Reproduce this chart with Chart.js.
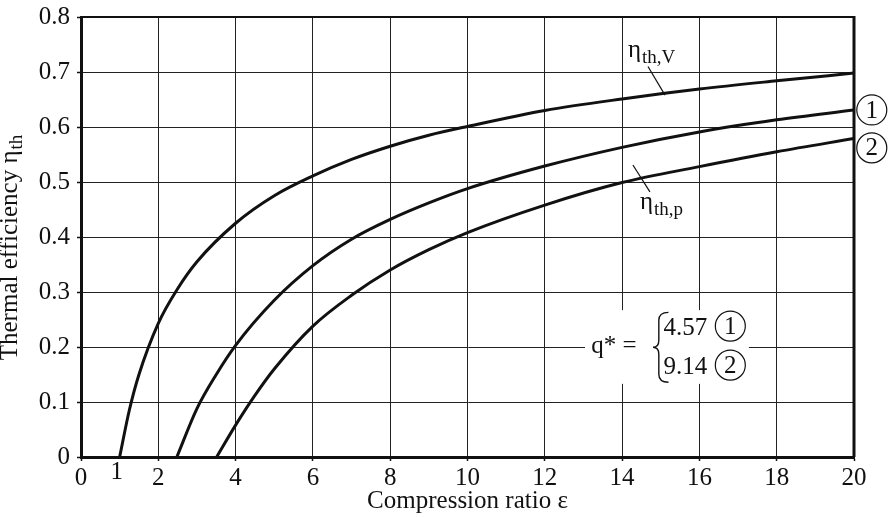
<!DOCTYPE html>
<html>
<head>
<meta charset="utf-8">
<script src="https://cdn.jsdelivr.net/npm/chart.js@4.4.1/dist/chart.umd.min.js"></script>
<style>
  html, body { margin: 0; padding: 0; background: #fff; }
  #wrap { width: 888px; height: 518px; }
</style>
</head>
<body>
<div id="wrap"><canvas id="c" width="888" height="518"></canvas></div>
<script>
// Values.
const epsV = [1, 1.25, 1.5, 2, 2.5, 3, 4, 5, 6, 7, 8, 9, 10, 12, 14, 16, 18, 20];
const etaV = [0, 0.085, 0.150, 0.243, 0.306, 0.355, 0.425, 0.475, 0.511, 0.541, 0.565, 0.585, 0.601, 0.630, 0.651, 0.669, 0.684, 0.698];

const eps1 = [2.48, 3, 3.5, 4, 5, 6, 7, 8, 9, 10, 12, 14, 16, 18, 20];
const eta1 = [0, 0.088, 0.150, 0.203, 0.285, 0.348, 0.396, 0.432, 0.462, 0.488, 0.529, 0.563, 0.591, 0.613, 0.631];

const eps2 = [3.51, 4, 4.5, 5, 6, 7, 8, 9, 10, 12, 14, 16, 18, 20];
const eta2 = [0, 0.058, 0.112, 0.160, 0.238, 0.294, 0.340, 0.377, 0.408, 0.458, 0.499, 0.528, 0.555, 0.579];

const xTicks = [0, 2, 4, 6, 8, 10, 12, 14, 16, 18, 20];
const yTicks = [0, 0.1, 0.2, 0.3, 0.4, 0.5, 0.6, 0.7, 0.8];
const qValues = ['4.57', '9.14'];

const SERIF = '"Liberation Serif", "DejaVu Serif", serif';

function pts(xs, ys) {
    return xs.map((x, i) => ({ x: x, y: ys[i] }));
}

function curve(label, xs, ys) {
    return {
        label: label,
        data: pts(xs, ys),
        borderColor: '#111',
        borderWidth: 3,
        pointRadius: 0,
        fill: false,
        cubicInterpolationMode: 'monotone'
    };
}

// eta with a subscript, drawn at (x, baseline y)
function etaSub(ctx, x, y, sub) {
    ctx.font = '25px ' + SERIF;
    ctx.textAlign = 'left';
    ctx.textBaseline = 'alphabetic';
    ctx.fillText('\u03b7', x, y);
    const w = ctx.measureText('\u03b7').width;
    ctx.font = '19px ' + SERIF;
    ctx.fillText(sub, x + w + 1, y + 6);
}

function circled(ctx, x, y, txt) {
    ctx.beginPath();
    ctx.arc(x, y, 15, 0, Math.PI * 2);
    ctx.lineWidth = 1.2;
    ctx.stroke();
    ctx.font = '25px ' + SERIF;
    ctx.textAlign = 'center';
    ctx.textBaseline = 'middle';
    ctx.fillText(txt, x, y + 1);
}

const extras = {
    id: 'extras',
    afterDraw(chart) {
        const ctx = chart.ctx;
        const a = chart.chartArea;
        const X = v => chart.scales.x.getPixelForValue(v);
        const Y = v => chart.scales.y.getPixelForValue(v);
        ctx.save();
        ctx.fillStyle = '#111';
        ctx.strokeStyle = '#111';

        // top and right frame
        ctx.lineWidth = 2;
        ctx.beginPath();
        ctx.moveTo(a.left, a.top);
        ctx.lineTo(a.right, a.top);
        ctx.stroke();
        ctx.lineWidth = 3;
        ctx.beginPath();
        ctx.moveTo(a.right, a.top - 1);
        ctx.lineTo(a.right, a.bottom);
        ctx.stroke();

        // extra "1" under the axis
        ctx.font = '25px ' + SERIF;
        ctx.textAlign = 'center';
        ctx.textBaseline = 'alphabetic';
        ctx.fillText('1', X(1) - 3, a.bottom + 22);

        // y axis title with subscript
        ctx.save();
        ctx.translate(17, 248);
        ctx.rotate(-Math.PI / 2);
        ctx.font = '25px ' + SERIF;
        const main = 'Thermal efficiency \u03b7';
        const wMain = ctx.measureText(main).width;
        ctx.font = '19px ' + SERIF;
        const wSub = ctx.measureText('th').width;
        const x0 = -(wMain + wSub) / 2;
        ctx.font = '25px ' + SERIF;
        ctx.textAlign = 'left';
        ctx.fillText(main, x0, 0);
        ctx.font = '19px ' + SERIF;
        ctx.fillText('th', x0 + wMain + 1, 5);
        ctx.restore();

        // curve labels with leader lines
        etaSub(ctx, X(14.15), Y(0.727), 'th,V');
        ctx.lineWidth = 1.2;
        ctx.beginPath();
        ctx.moveTo(X(14.67), Y(0.71));
        ctx.lineTo(X(15.11), Y(0.658));
        ctx.stroke();

        etaSub(ctx, X(14.46), Y(0.451), 'th,p');
        ctx.beginPath();
        ctx.moveTo(X(14.28), Y(0.531));
        ctx.lineTo(X(14.72), Y(0.482));
        ctx.stroke();

        // circled series numbers at the right edge
        circled(ctx, X(20.46), Y(0.631), '1');
        circled(ctx, X(20.46), Y(0.562), '2');

        // q* key
        ctx.fillStyle = '#fff';
        ctx.fillRect(X(13.04), Y(0.267), X(17.28) - X(13.04), Y(0.133) - Y(0.267));
        ctx.fillStyle = '#111';
        ctx.font = '25px ' + SERIF;
        ctx.textAlign = 'left';
        ctx.textBaseline = 'alphabetic';
        ctx.fillText('q* =', X(13.2), Y(0.19));

        const bx = X(14.95), tip = X(15.2), pt = X(14.8);
        const T = Y(0.263), B = Y(0.136), M = (T + B) / 2;
        ctx.lineWidth = 1.4;
        ctx.beginPath();
        ctx.moveTo(tip, T);
        ctx.quadraticCurveTo(bx, T, bx, T + 8);
        ctx.lineTo(bx, M - 7);
        ctx.quadraticCurveTo(bx, M, pt, M);
        ctx.quadraticCurveTo(bx, M, bx, M + 7);
        ctx.lineTo(bx, B - 8);
        ctx.quadraticCurveTo(bx, B, tip, B);
        ctx.stroke();

        ctx.font = '25px ' + SERIF;
        ctx.textAlign = 'right';
        ctx.fillText(qValues[0], X(16.2), Y(0.222));
        ctx.fillText(qValues[1], X(16.2), Y(0.151));
        circled(ctx, X(16.8), Y(0.238), '1');
        circled(ctx, X(16.8), Y(0.167), '2');

        ctx.restore();
    }
};

new Chart(document.getElementById('c'), {
    type: 'line',
    data: {
        datasets: [
            curve('eta_th,V', epsV, etaV),
            curve('q* = 4.57', eps1, eta1),
            curve('q* = 9.14', eps2, eta2)
        ]
    },
    options: {
        responsive: false,
        animation: false,
        layout: { padding: { left: 0, right: 34, top: 17, bottom: 0 } },
        plugins: { legend: { display: false }, tooltip: { enabled: false } },
        scales: {
            x: {
                type: 'linear',
                min: 0,
                max: 20,
                afterBuildTicks: s => { s.ticks = xTicks.map(v => ({ value: v })); },
                afterFit: s => { s.height = 61; },
                ticks: {
                    color: '#111',
                    padding: 2,
                    maxRotation: 0,
                    font: { family: SERIF, size: 25 }
                },
                grid: { color: '#222', lineWidth: 1, tickLength: 4, tickColor: '#111', tickWidth: 1.5 },
                border: { color: '#111', width: 3 },
                title: {
                    display: true,
                    text: 'Compression ratio \u03b5',
                    color: '#111',
                    padding: { top: 0, bottom: 2 },
                    font: { family: SERIF, size: 25 }
                }
            },
            y: {
                min: 0,
                max: 0.8,
                afterBuildTicks: s => { s.ticks = yTicks.map(v => ({ value: v })); },
                afterFit: s => { s.width = 81; s.paddingTop = 0; s.paddingBottom = 0; },
                ticks: {
                    color: '#111',
                    padding: 7,
                    font: { family: SERIF, size: 25 },
                    callback: v => (v === 0 ? '0' : v.toFixed(1))
                },
                grid: { color: '#222', lineWidth: 1, tickLength: 4, tickColor: '#111', tickWidth: 1.5 },
                border: { color: '#111', width: 3 }
            }
        }
    },
    plugins: [extras]
});
</script>
</body>
</html>
